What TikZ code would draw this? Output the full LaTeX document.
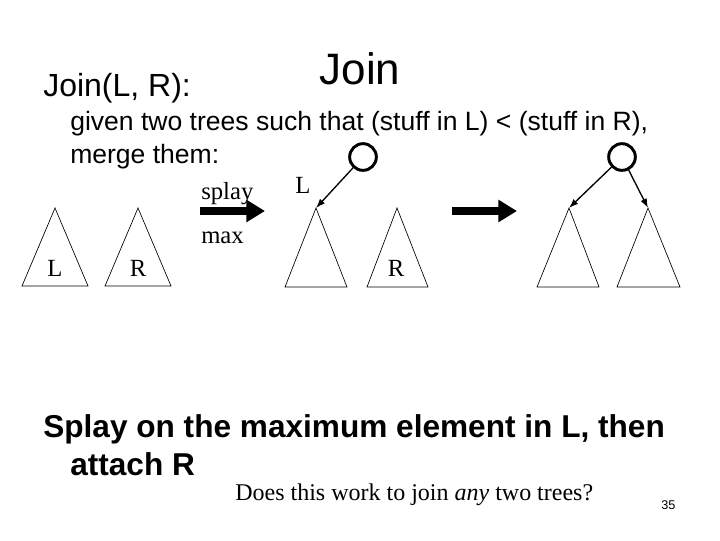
\documentclass[tikz,border=0pt]{standalone}
\usepackage{fontspec}
\setmainfont{Liberation Sans}
\newfontfamily\tms{Liberation Serif}
\usetikzlibrary{arrows.meta}
\begin{document}
\begin{tikzpicture}[x=0.75pt,y=-0.75pt,
  tri/.style={draw,line width=0.5pt},
  circ/.style={draw,circle,line width=2.2pt,minimum size=20pt,inner sep=0},
  edge/.style={line width=1pt,-{Latex[length=7pt,width=5pt]}},
  fat/.style={line width=6pt,-{Triangle[length=14pt,width=16pt]}},
  lab/.style={font=\tms\fontsize{18.5}{20}\selectfont,anchor=base west,inner sep=0},
  sans/.style={anchor=base west,inner sep=0}]
\useasboundingbox (0,0) rectangle (720,540);
\node[anchor=base,inner sep=0,font=\fontsize{33}{35}\selectfont] (title) at (360,84) {Join};
\node[sans,font=\fontsize{24}{26}\selectfont] (t1) at (43,96) {Join(L, R):};
\node[sans,font=\fontsize{19.9}{22}\selectfont] (t2) at (70,130) {given two trees such that (stuff in L) < (stuff in R),};
\node[sans,font=\fontsize{19.9}{22}\selectfont] (t3) at (70,163) {merge them:};
% left trees
\draw[tri] (55,208) -- (22,286) -- (88,286) -- cycle;
\node[lab,anchor=base] (lL) at (55,276) {L};
\draw[tri] (138,208) -- (105,286) -- (171,286) -- cycle;
\node[lab,anchor=base] (lR) at (138,276) {R};
% arrow 1
\node[lab] (splay) at (201,199) {splay};
\node[lab] (max) at (201,243) {max};
\coordinate (a1s) at (200,211); \coordinate (a1e) at (265,211);
\draw[fat] (a1s) -- (a1e);
% middle
\node[circ] (c1) at (363,157) {};
\coordinate (m1) at (316,208);
\draw[edge] (c1) -- (m1);
\node[lab] (mL) at (295,193) {L};
\draw[tri] (m1) -- (285,287) -- (347,287) -- cycle;
\draw[tri] (397,208) -- (367,287) -- (428,287) -- cycle;
\node[lab,anchor=base] (mR) at (396,276) {R};
% arrow 2
\coordinate (a2s) at (452,211); \coordinate (a2e) at (517,211);
\draw[fat] (a2s) -- (a2e);
% right
\node[circ] (c2) at (622,157) {};
\coordinate (r1) at (569,208); \coordinate (r2) at (648,208);
\draw[edge] (c2) -- (r1);
\draw[edge] (c2) -- (r2);
\draw[tri] (r1) -- (537,287) -- (599,287) -- cycle;
\draw[tri] (r2) -- (617,287) -- (680,287) -- cycle;
% bottom
\node[sans,font=\bfseries\fontsize{23.7}{26}\selectfont] (b1) at (43,437) {Splay on the maximum element in L, then};
\node[sans,font=\bfseries\fontsize{23.7}{26}\selectfont] (b2) at (70,475) {attach R};
\node[lab,font=\tms\fontsize{18}{20}\selectfont] (q) at (235,500) {Does this work to join \textit{any} two trees?};
\node[sans,font=\fontsize{9.5}{11}\selectfont] (pg) at (661,509) {35};
\end{tikzpicture}
\end{document}
